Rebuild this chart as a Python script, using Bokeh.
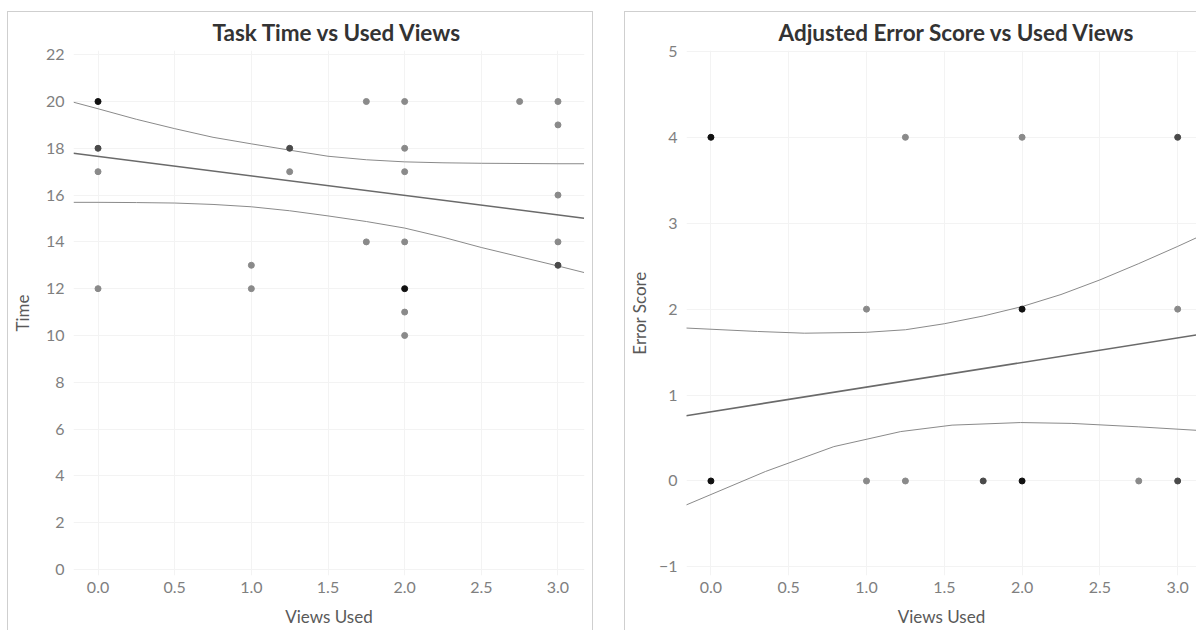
from bokeh.plotting import figure
from bokeh.layouts import row
from bokeh.models import ColumnDataSource, SingleIntervalTicker, NumeralTickFormatter, FixedTicker
from bokeh.embed import file_html
from bokeh.resources import INLINE

# ---- Task time vs views used ----
time_views = [0, 0, 0, 0, 1, 1, 1.25, 1.25, 1.75, 1.75,
              2, 2, 2, 2, 2, 2, 2, 2.75, 3, 3, 3, 3, 3]
time_values = [20, 18, 17, 12, 13, 12, 18, 17, 20, 14,
               20, 18, 17, 14, 12, 11, 10, 20, 20, 19, 16, 14, 13]
time_counts = [3, 2, 1, 1, 1, 1, 2, 1, 1, 1,
               1, 1, 1, 1, 3, 1, 1, 1, 1, 1, 1, 1, 2]

time_fit_x = [-0.16, 3.17]
time_fit_y = [17.79, 15.01]
time_band_x = [-0.16, 0.0, 0.25, 0.5, 0.75, 1.0, 1.25, 1.5, 1.75, 2.0, 2.25, 2.5, 3.0, 3.17]
time_upper = [19.97, 19.69, 19.24, 18.84, 18.47, 18.19, 17.92, 17.66, 17.51, 17.42, 17.38, 17.36, 17.34, 17.34]
time_lower = [15.69, 15.69, 15.68, 15.66, 15.6, 15.5, 15.33, 15.11, 14.87, 14.59, 14.2, 13.76, 12.97, 12.69]

# ---- Adjusted error score vs views used ----
err_views = [0, 1.25, 2, 3, 1, 2, 3, 0, 1, 1.25, 1.75, 2, 2.75, 3]
err_values = [4, 4, 4, 4, 2, 2, 2, 0, 0, 0, 0, 0, 0, 0]
err_counts = [3, 1, 1, 2, 1, 3, 1, 3, 1, 1, 2, 3, 1, 2]

err_fit_x = [-0.16, 3.12]
err_fit_y = [0.76, 1.70]
err_upper_x = [-0.16, 0.3, 0.6, 1.0, 1.25, 1.5, 1.75, 2.0, 2.25, 2.5, 2.75, 3.0, 3.12]
err_upper_y = [1.78, 1.74, 1.72, 1.73, 1.76, 1.83, 1.92, 2.03, 2.17, 2.34, 2.53, 2.73, 2.83]
err_lower_x = [-0.16, 0.35, 0.79, 1.22, 1.55, 1.99, 2.32, 2.75, 3.12]
err_lower_y = [-0.28, 0.11, 0.40, 0.575, 0.65, 0.68, 0.67, 0.63, 0.59]

# darker dots mark repeated observations
shade = {1: "#8a8a8a", 2: "#4a4a4a", 3: "#111111"}

FONT = "Lato"


def style(p, title_offset):
    p.title.text_font = FONT
    p.title.text_font_size = "22.5px"
    p.title.text_font_style = "bold"
    p.title.text_color = "#333333"
    p.title.align = "left"
    p.title.offset = title_offset
    p.title.standoff = 9
    p.outline_line_color = None
    p.background_fill_color = "white"
    p.border_fill_color = "white"
    for ax in (p.xaxis[0], p.yaxis[0]):
        ax.axis_line_color = None
        ax.major_tick_line_color = None
        ax.minor_tick_line_color = None
        ax.major_tick_out = 0
        ax.major_tick_in = 0
        ax.minor_tick_out = 0
        ax.minor_tick_in = 0
        ax.major_label_text_font = FONT
        ax.major_label_text_font_size = "16px"
        ax.major_label_text_color = "#7f7f7f"
        ax.axis_label_text_font = FONT
        ax.axis_label_text_font_size = "17px"
        ax.axis_label_text_font_style = "normal"
        ax.axis_label_text_color = "#595959"
    p.xaxis.major_label_standoff = 6
    p.xaxis.axis_label_standoff = 10
    p.yaxis.major_label_standoff = 9
    p.xaxis.formatter = NumeralTickFormatter(format="0.0")
    p.xaxis.ticker = FixedTicker(ticks=[0, 0.5, 1, 1.5, 2, 2.5, 3])
    p.grid.grid_line_color = "#f3f3f3"
    p.grid.grid_line_width = 1
    p.styles = {"outline": "1px solid #cfcfcf"}


# left panel
p1 = figure(width=584, height=618, x_range=(-0.16, 3.173), y_range=(-0.26, 22.18),
            title="Task Time vs Used Views", output_backend="svg",
            toolbar_location=None, min_border_left=64, min_border_right=8,
            min_border_top=38, min_border_bottom=55, margin=(12, 0, 0, 8))
style(p1, 139)
p1.yaxis.ticker = SingleIntervalTicker(interval=2)
p1.xaxis.axis_label = "Views Used"
p1.yaxis.axis_label = "Time"
p1.yaxis.axis_label_standoff = 10

src1 = ColumnDataSource(dict(x=time_views, y=time_values,
                             c=[shade[k] for k in time_counts]))
p1.line(time_band_x, time_upper, line_color="#8a8a8a", line_width=1)
p1.line(time_band_x, time_lower, line_color="#8a8a8a", line_width=1)
p1.line(time_fit_x, time_fit_y, line_color="#6a6a6a", line_width=1.6)
p1.scatter("x", "y", source=src1, size=6, fill_color="c", line_color="c")

# right panel
p2 = figure(width=571, height=618, x_range=(-0.157, 3.121), y_range=(-1.10, 5.01),
            title="Adjusted Error Score vs Used Views", output_backend="svg",
            toolbar_location=None, min_border_left=58, min_border_right=0,
            min_border_top=38, min_border_bottom=55, margin=(12, 0, 0, 33))
style(p2, 92)
p2.yaxis.ticker = SingleIntervalTicker(interval=1)
p2.xaxis.axis_label = "Views Used"
p2.yaxis.axis_label = "Error Score"
p2.yaxis.axis_label_standoff = 6

src2 = ColumnDataSource(dict(x=err_views, y=err_values,
                             c=[shade[k] for k in err_counts]))
p2.line(err_upper_x, err_upper_y, line_color="#8a8a8a", line_width=1)
p2.line(err_lower_x, err_lower_y, line_color="#8a8a8a", line_width=1)
p2.line(err_fit_x, err_fit_y, line_color="#6a6a6a", line_width=1.6)
p2.scatter("x", "y", source=src2, size=6, fill_color="c", line_color="c")

layout = row(p1, p2)
open("out.html", "w").write(file_html(layout, INLINE))
